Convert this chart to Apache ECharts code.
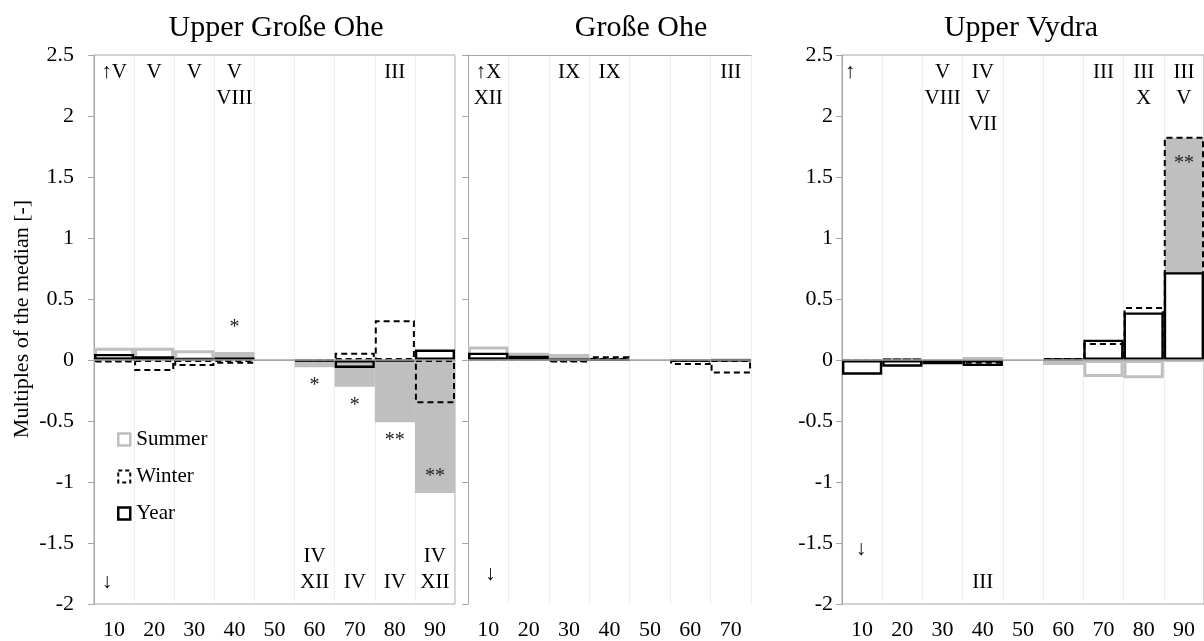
<!DOCTYPE html>
<html><head><meta charset="utf-8">
<script src="https://cdn.jsdelivr.net/npm/echarts@6/dist/echarts.min.js"></script>
<style>html,body{margin:0;padding:0;background:#fff}#c{width:1204px;height:641px}</style>
</head><body><div id="c"></div>
<script>
// ---------- data ----------
const categories1 = ['10','20','30','40','50','60','70','80','90'];
const categories2 = ['10','20','30','40','50','60','70'];
const categories3 = ['10','20','30','40','50','60','70','80','90'];
const yMin = -2, yMax = 2.5, yStep = 0.5;

// Upper Große Ohe
const summer1 = [0.10, 0.10, 0.08, 0.065, null, -0.06, -0.22, -0.51, -1.09];
const winter1 = [-0.02, -0.09, -0.05, -0.03, null, -0.01, 0.06, 0.325, -0.355];
const year1   = [0.05, 0.03, 0.01, 0.02, null, -0.01, -0.065, -0.01, 0.086];
const summerSig1 = ['', '', '', '*', '', '*', '*', '**', '**'];
const winterSig1 = ['', '', '', '', '', '', '', '', ''];
const topText1    = ['↑V', 'V', 'V', 'V\nVIII', '', '', '', 'III', ''];
const bottomText1 = ['↓', '', '', '', '', 'IV\nXII', 'IV', 'IV', 'IV\nXII'];

// Große Ohe
const summer2 = [0.11, 0.06, 0.05, 0.01, null, -0.01, 0.0];
const winter2 = [0.01, 0.01, -0.02, 0.03, null, -0.04, -0.11];
const year2   = [0.06, 0.035, 0.005, 0.005, null, -0.01, -0.005];
const summerSig2 = ['', '', '', '', '', '', ''];
const winterSig2 = ['', '', '', '', '', '', ''];
const topText2    = ['↑X\nXII', '', 'IX', 'IX', '', '', 'III'];
const bottomText2 = ['↓', '', '', '', '', '', ''];

// Upper Vydra
const summer3 = [-0.01, 0.01, -0.01, 0.025, null, -0.04, -0.14, -0.15, -0.01];
const winter3 = [-0.01, 0.01, -0.03, -0.03, null, 0.015, 0.14, 0.435, 1.83];
const year3   = [-0.12, -0.055, -0.035, -0.05, null, 0.01, 0.167, 0.39, 0.72];
const summerSig3 = ['', '', '', '', '', '', '', '', ''];
const winterSig3 = ['', '', '', '', '', '', '', '', '**'];
const topText3    = ['↑', '', 'V\nVIII', 'IV\nV\nVII', '', '', 'III', 'III\nX', 'III\nV'];
const bottomText3 = ['↓', '', '', 'III', '', '', '', '', ''];

const titles = ['Upper Große Ohe', 'Große Ohe', 'Upper Vydra'];
const seriesNames = ['Summer', 'Winter', 'Year'];
const yAxisName = 'Multiples of the median [-]';

// ---------- layout / style ----------
const FONT = '"Liberation Serif", "Times New Roman", serif';
const AXIS_GREY = '#a6a6a6';
const FILL_GREY = '#bfbfbf';
const panels = [
  {cats: categories1, s: summer1, w: winter1, y: year1, sSig: summerSig1, wSig: winterSig1, top: topText1, bot: bottomText1,
   grid: {left: 94, top: 55, width: 361, height: 549}, yLabels: true, labelMargin: 20, titleX: 271, border: true,
   upOff: [-2, 0], downOff: [-7, 0]},
  {cats: categories2, s: summer2, w: winter2, y: year2, sSig: summerSig2, wSig: winterSig2, top: topText2, bot: bottomText2,
   grid: {left: 468, top: 55, width: 283, height: 549}, yLabels: false, labelMargin: 20, titleX: 636, border: false,
   upOff: [0, 0], downOff: [2, -8]},
  {cats: categories3, s: summer3, w: winter3, y: year3, sSig: summerSig3, wSig: winterSig3, top: topText3, bot: bottomText3,
   grid: {left: 842, top: 55, width: 364, height: 549}, yLabels: true, labelMargin: 9, titleX: 1016, border: true,
   upOff: [-12, 0], downOff: [-1, -33]}
];

const grids = [], xAxes = [], yAxes = [], series = [], titleOpts = [];
panels.forEach((p, i) => {
  grids.push(Object.assign({show: p.border, borderColor: AXIS_GREY, borderWidth: 1, backgroundColor: 'transparent'}, p.grid));
  xAxes.push({
    type: 'category', gridIndex: i, data: p.cats, boundaryGap: true,
    axisLine: {show: true, lineStyle: {color: AXIS_GREY, width: 1}},
    axisTick: {show: false},
    axisLabel: {interval: 0, fontFamily: FONT, fontSize: 22, color: '#000', margin: 15},
    splitLine: {show: true, interval: 0, lineStyle: {color: '#dcdcdc', type: 'dotted', width: 1}}
  });
  yAxes.push({
    type: 'value', gridIndex: i, min: yMin, max: yMax, interval: yStep,
    axisLine: {show: true, lineStyle: {color: AXIS_GREY, width: 1}},
    axisTick: {show: true, length: 6, lineStyle: {color: AXIS_GREY}},
    axisLabel: {show: p.yLabels, fontFamily: FONT, fontSize: 22, color: '#000', margin: p.labelMargin},
    splitLine: {show: false}
  });
  titleOpts.push({text: titles[i], left: p.titleX, top: 8, textAlign: 'center',
    textStyle: {fontFamily: FONT, fontSize: 30, fontWeight: 'normal', color: '#000'}});

  const common = {type: 'bar', xAxisIndex: i, yAxisIndex: i, barWidth: '100%', barGap: '-100%', barCategoryGap: 0, silent: true};
  series.push(Object.assign({}, common, {
    name: seriesNames[0],
    itemStyle: {color: 'rgba(0,0,0,0)', borderColor: FILL_GREY, borderWidth: 3},
    data: p.s.map((v, k) => v === null ? '-' : {value: v, itemStyle: {color: p.sSig[k] ? FILL_GREY : 'rgba(0,0,0,0)'}}),
    markLine: {silent: true, symbol: 'none', label: {show: false}, animation: false,
      lineStyle: {color: AXIS_GREY, width: 1.5, type: 'solid'}, data: [{yAxis: 0}]},
    z: 2
  }));
  series.push(Object.assign({}, common, {
    name: seriesNames[1],
    itemStyle: {color: 'rgba(0,0,0,0)', borderColor: '#000', borderWidth: 2, borderType: [6, 4]},
    data: p.w.map((v, k) => v === null ? '-' : {value: v, itemStyle: {color: p.wSig[k] ? FILL_GREY : 'rgba(0,0,0,0)'}}),
    z: 3
  }));
  series.push(Object.assign({}, common, {
    name: seriesNames[2],
    itemStyle: {color: 'rgba(0,0,0,0)', borderColor: '#000', borderWidth: 2.4},
    data: p.y.map((v, k) => v === null ? '-' : {value: v, itemStyle: {color: p.wSig[k] ? '#ffffff' : 'rgba(0,0,0,0)'}}),
    z: 4
  }));

  // significance stars at bar ends
  const stars = [];
  [[p.s, p.sSig], [p.w, p.wSig]].forEach(([vals, sig]) => {
    vals.forEach((v, k) => {
      if (!sig[k]) return;
      const inside = Math.abs(v) > 1;
      let pos, dist;
      if (v >= 0) { pos = inside ? 'bottom' : 'top'; dist = inside ? 17 : 14; }
      else { pos = inside ? 'top' : 'bottom'; dist = inside ? 6 : 8; }
      stars.push({value: [p.cats[k], v], label: {show: true, formatter: sig[k], position: pos, distance: dist}});
    });
  });
  series.push({type: 'scatter', xAxisIndex: i, yAxisIndex: i, symbolSize: 1, silent: true,
    itemStyle: {color: 'rgba(0,0,0,0)', opacity: 1}, z: 10,
    label: {show: true, fontFamily: FONT, fontSize: 20, color: '#222', lineHeight: 20},
    data: stars});

  // month annotations at top and bottom
  const topData = [], botData = [];
  p.top.forEach((t, k) => {
    if (!t) return;
    const d = {value: [p.cats[k], yMax], label: {formatter: t}};
    if (t === '↑') d.label.offset = p.upOff;
    topData.push(d);
  });
  p.bot.forEach((t, k) => {
    if (!t) return;
    const d = {value: [p.cats[k], yMin], label: {formatter: t}};
    if (t === '↓') d.label.offset = p.downOff;
    botData.push(d);
  });
  const annLabel = {show: true, fontFamily: FONT, fontSize: 21, color: '#000', lineHeight: 26, align: 'center'};
  series.push({type: 'scatter', xAxisIndex: i, yAxisIndex: i, symbolSize: 1, silent: true, itemStyle: {color: 'rgba(0,0,0,0)', opacity: 1}, z: 10,
    label: Object.assign({position: 'bottom', distance: 4}, annLabel), data: topData});
  series.push({type: 'scatter', xAxisIndex: i, yAxisIndex: i, symbolSize: 1, silent: true, itemStyle: {color: 'rgba(0,0,0,0)', opacity: 1}, z: 10,
    label: Object.assign({position: 'top', distance: 8}, annLabel), data: botData});
});

// top edge for the middle panel (no full box there)
xAxes.push({type: 'category', gridIndex: 1, position: 'top', data: categories2,
  axisLine: {show: true, onZero: false, lineStyle: {color: AXIS_GREY, width: 1}},
  axisTick: {show: false}, axisLabel: {show: false}, splitLine: {show: false}});

const chart = echarts.init(document.getElementById('c'), null, {renderer: 'canvas'});
chart.setOption({
  animation: false,
  backgroundColor: '#fff',
  title: titleOpts,
  grid: grids,
  xAxis: xAxes,
  yAxis: yAxes,
  legend: {
    orient: 'vertical', left: 117, top: 429, padding: 0, itemGap: 16,
    itemWidth: 12, itemHeight: 12, selectedMode: false,
    textStyle: {fontFamily: FONT, fontSize: 21, color: '#000', lineHeight: 21, padding: [0, 0, 0, 1]},
    data: [
      {name: 'Summer', icon: 'rect', itemStyle: {color: '#fff', borderColor: FILL_GREY, borderWidth: 2.5}},
      {name: 'Winter', icon: 'rect', itemStyle: {color: '#fff', borderColor: '#000', borderWidth: 2, borderType: [4, 3]}},
      {name: 'Year', icon: 'rect', itemStyle: {color: '#fff', borderColor: '#000', borderWidth: 2.5}}
    ]
  },
  graphic: [{type: 'text', x: 22, y: 319, rotation: Math.PI / 2,
    style: {text: yAxisName, font: '22px ' + FONT, fill: '#000', align: 'center', verticalAlign: 'middle'}}],
  series: series
});
</script></body></html>
